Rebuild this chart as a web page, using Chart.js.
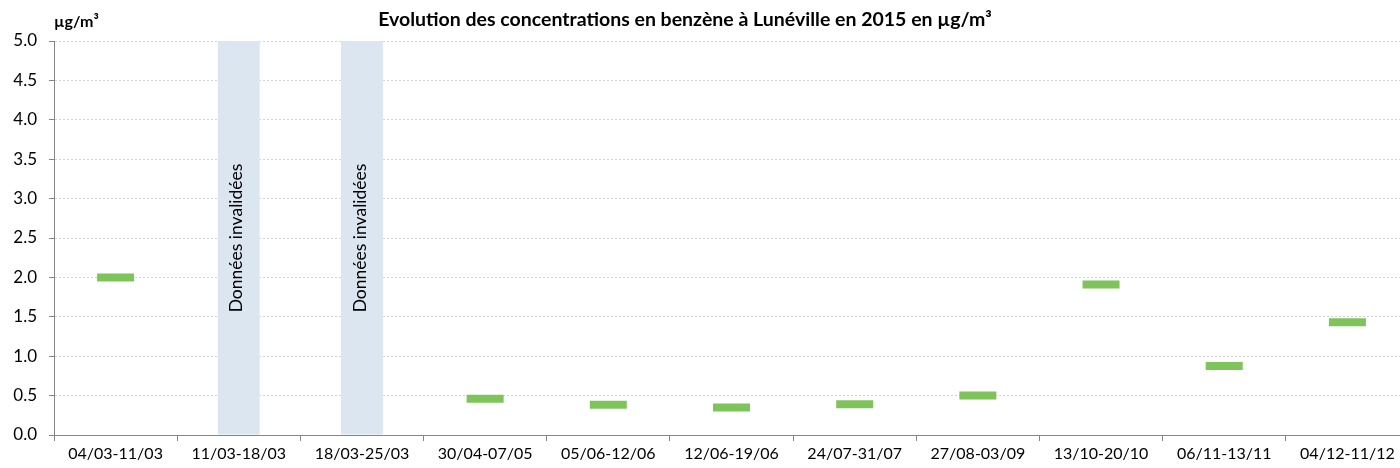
<!DOCTYPE html>
<html lang="fr">
<head>
  <meta charset="UTF-8">
  <title>Benzène Lunéville 2015</title>
  <script src="https://cdn.jsdelivr.net/npm/chart.js"></script>
  <style>
    body {
      margin: 0;
      overflow: hidden;
      background: #fff;
    }
    #wrap {
      width: 1410px;
      height: 468px;
    }
  </style>
</head>
<body>
  <div id="wrap"><canvas id="chart" width="1410" height="468"></canvas></div>

  <script>
    // données
    const periodes = ['04/03-11/03', '11/03-18/03', '18/03-25/03', '30/04-07/05', '05/06-12/06',
      '12/06-19/06', '24/07-31/07', '27/08-03/09', '13/10-20/10', '06/11-13/11', '04/12-11/12'];
    const benzene = [2.0, null, null, 0.46, 0.385, 0.35, 0.39, 0.5, 1.91, 0.875, 1.43];
    const invalide = [false, true, true, false, false, false, false, false, false, false, false];
    const yTicks = [0, 0.5, 1, 1.5, 2, 2.5, 3, 3.5, 4, 4.5, 5];

    const yMax = yTicks[yTicks.length - 1];
    const FONT = 'Lato, "Open Sans", sans-serif';

    const textes = {
      id: 'textes',
      afterDatasetsDraw(chart) {
        const ctx = chart.ctx;
        const x = chart.scales.x, y = chart.scales.y;
        ctx.save();
        ctx.fillStyle = '#000';
        ctx.font = '17.5px ' + FONT;
        ctx.textAlign = 'center';
        ctx.textBaseline = 'middle';
        invalide.forEach((inv, i) => {
          if (!inv) return;
          ctx.save();
          ctx.translate(x.getPixelForValue(i) - 2, y.getPixelForValue(2.5));
          ctx.rotate(-Math.PI / 2);
          ctx.fillText('Données invalidées', 0, 0);
          ctx.restore();
        });
        ctx.font = 'bold 19.5px ' + FONT;
        ctx.fillText('Evolution des concentrations en benzène à Lunéville en 2015 en µg/m³', 685, 20);
        ctx.font = 'bold 16px ' + FONT;
        ctx.textAlign = 'left';
        ctx.fillText('µg/m³', 54, 22);
        ctx.restore();
      }
    };

    new Chart(document.getElementById('chart'), {
      data: {
        labels: periodes,
        datasets: [{
          type: 'bar',
          data: invalide.map(v => v ? yMax : null),
          backgroundColor: '#dce6f1',
          categoryPercentage: 1,
          barPercentage: 0.34,
          order: 2
        }, {
          type: 'line',
          data: benzene,
          showLine: false,
          pointStyle: 'line',
          pointRadius: 18.5,
          pointBorderWidth: 8,
          pointBorderColor: '#7ec45a',
          pointBackgroundColor: '#7ec45a',
          order: 1
        }]
      },
      options: {
        responsive: false,
        animation: false,
        layout: { autoPadding: false, padding: { top: 41, right: 1, left: 0, bottom: 0 } },
        plugins: {
          legend: { display: false },
          tooltip: { enabled: false }
        },
        scales: {
          x: {
            offset: true,
            grid: {
              offset: true,
              drawOnChartArea: false,
              tickLength: 6,
              color: '#868686'
            },
            border: { color: '#868686' },
            ticks: {
              color: '#000',
              maxRotation: 0,
              autoSkip: false,
              padding: 3,
              font: { family: FONT, size: 16 }
            },
            afterFit(s) {
              s.height = 33;
              s.paddingLeft = 0;
              s.paddingRight = 0;
            }
          },
          y: {
            min: 0,
            max: yMax,
            afterBuildTicks(s) { s.ticks = yTicks.map(v => ({ value: v })); },
            grid: {
              color: '#d4d4d4',
              tickLength: 5,
              tickColor: '#868686',
              tickBorderDash: []
            },
            border: { color: '#868686', dash: [2, 2] },
            ticks: {
              color: '#000',
              padding: 12,
              font: { family: FONT, size: 17 },
              callback: v => v.toFixed(1)
            },
            afterFit(s) { s.width = 54; }
          }
        }
      },
      plugins: [textes]
    });
  </script>
</body>
</html>
